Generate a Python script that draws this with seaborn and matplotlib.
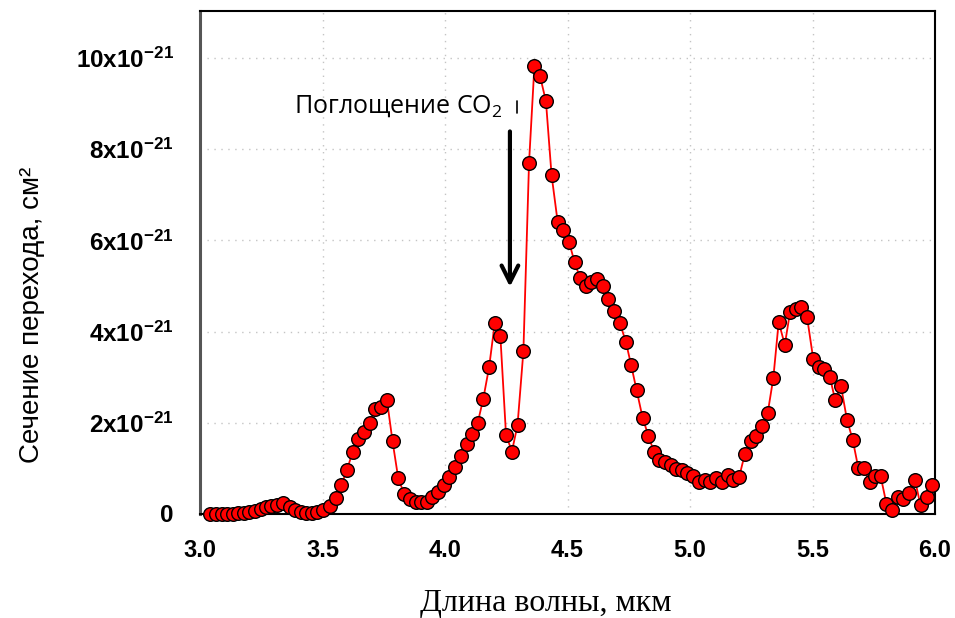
import matplotlib
matplotlib.use("Agg")
import matplotlib.pyplot as plt
import numpy as np
import pandas as pd
import seaborn as sns

# wavelength (um) and transition cross-section (x1e-21 cm^2)
wavelength = [
    3.041, 3.064, 3.088, 3.111, 3.135, 3.156, 3.178, 3.201, 3.224, 3.248,
    3.269, 3.291, 3.314, 3.340, 3.367, 3.388, 3.411, 3.434, 3.456, 3.479,
    3.503, 3.531, 3.554, 3.577, 3.600, 3.623, 3.646, 3.669, 3.693, 3.716,
    3.739, 3.763, 3.786, 3.809, 3.833, 3.857, 3.880, 3.903, 3.925, 3.948,
    3.973, 3.996, 4.018, 4.041, 4.064, 4.088, 4.110, 4.133, 4.156, 4.180,
    4.203, 4.226, 4.249, 4.273, 4.296, 4.320, 4.343, 4.365, 4.388, 4.412,
    4.435, 4.460, 4.482, 4.506, 4.529, 4.551, 4.574, 4.596, 4.619, 4.644,
    4.667, 4.690, 4.714, 4.738, 4.760, 4.782, 4.807, 4.830, 4.853, 4.875,
    4.898, 4.921, 4.943, 4.966, 4.989, 5.014, 5.037, 5.060, 5.083, 5.107,
    5.129, 5.154, 5.177, 5.201, 5.224, 5.248, 5.269, 5.294, 5.317, 5.340,
    5.362, 5.387, 5.408, 5.431, 5.454, 5.478, 5.503, 5.525, 5.548, 5.571,
    5.593, 5.616, 5.641, 5.664, 5.687, 5.710, 5.733, 5.755, 5.778, 5.802,
    5.824, 5.848, 5.871, 5.895, 5.918, 5.941, 5.966, 5.989,
]
cross_section = [
    0.00, 0.00, 0.00, 0.00, 0.01, 0.02, 0.03, 0.04, 0.07, 0.12,
    0.16, 0.18, 0.20, 0.25, 0.16, 0.09, 0.04, 0.02, 0.03, 0.04,
    0.08, 0.18, 0.34, 0.63, 0.97, 1.36, 1.64, 1.79, 1.99, 2.30,
    2.35, 2.50, 1.59, 0.79, 0.44, 0.33, 0.27, 0.26, 0.27, 0.38,
    0.49, 0.64, 0.82, 1.04, 1.28, 1.54, 1.75, 1.99, 2.52, 3.22,
    4.18, 3.90, 1.74, 1.37, 1.95, 3.57, 7.70, 9.83, 9.60, 9.05,
    7.43, 6.40, 6.23, 5.97, 5.52, 5.18, 5.00, 5.09, 5.15, 4.99,
    4.71, 4.46, 4.18, 3.78, 3.26, 2.72, 2.10, 1.72, 1.36, 1.19,
    1.14, 1.07, 0.99, 0.97, 0.90, 0.84, 0.70, 0.75, 0.70, 0.79,
    0.70, 0.86, 0.74, 0.82, 1.32, 1.61, 1.72, 1.93, 2.21, 2.98,
    4.21, 3.71, 4.42, 4.50, 4.53, 4.31, 3.40, 3.23, 3.17, 3.00,
    2.49, 2.81, 2.06, 1.63, 1.01, 1.01, 0.70, 0.83, 0.83, 0.22,
    0.09, 0.37, 0.33, 0.46, 0.75, 0.19, 0.37, 0.63,
]

x_ticks = [3.0, 3.5, 4.0, 4.5, 5.0, 5.5, 6.0]
y_ticks = [0, 2, 4, 6, 8, 10]
y_ticklabels = [r"$\mathbf{0}$"] + [r"$\mathbf{%dx10^{-21}}$" % v for v in y_ticks[1:]]

sns.set_style("white")
plt.rcParams["mathtext.fontset"] = "custom"
plt.rcParams["mathtext.rm"] = "Open Sans"
plt.rcParams["mathtext.bf"] = "Liberation Sans:bold"
plt.rcParams["font.family"] = ["Liberation Sans", "DejaVu Sans"]
plt.rcParams["text.color"] = "black"
plt.rcParams["xtick.color"] = "black"
plt.rcParams["ytick.color"] = "black"

df = pd.DataFrame({"wl": wavelength, "sigma": cross_section})

fig = plt.figure(figsize=(9.55, 6.18), dpi=100)
ax = fig.add_axes([200 / 955, 104 / 618, 735 / 955, 503 / 618])

sns.lineplot(data=df, x="wl", y="sigma", sort=False, ax=ax, color="red",
             linewidth=1.3, marker="o", markersize=9.8,
             markerfacecolor="red", markeredgecolor="black",
             markeredgewidth=1.0, clip_on=False, zorder=3)

ax.set_xlim(3.0, 6.0)
ax.set_ylim(0, 11.03)
ax.set_xticks(x_ticks)
ax.set_xticklabels([f"{v:.1f}" for v in x_ticks], fontsize=17, fontweight="bold")
ax.set_yticks(y_ticks)
ax.set_yticklabels(y_ticklabels, fontsize=17.5)

ax.grid(True, linestyle=(0, (1, 4)), color="#c4c4c4", linewidth=1.0)
ax.tick_params(axis="both", direction="out", length=7, width=1.2,
               color="black", labelcolor="black")
ax.tick_params(axis="x", pad=11)
ax.tick_params(axis="y", pad=12)

for side in ["top", "right", "bottom"]:
    ax.spines[side].set_color("black")
    ax.spines[side].set_linewidth(1.5)
ax.spines["left"].set_color("#555555")
ax.spines["left"].set_linewidth(2.2)

ax.set_xlabel("")
ax.set_ylabel("")
fig.text(546 / 955, 1 - 603 / 618, "Длина волны, мкм", fontsize=23,
         family="Liberation Serif", ha="center", va="center", color="black")
fig.text(32 / 955, 1 - 315 / 618, "Сечение перехода, см²", fontsize=20,
         rotation=90, ha="center", va="center", color="black")

# CO2 absorption annotation
ax.annotate("", xy=(4.265, 4.92), xytext=(4.265, 8.45),
            arrowprops=dict(arrowstyle="->", color="black", lw=3,
                            mutation_scale=30))
ax.text(4.233, 8.95, r"Поглощение CO$_\mathrm{2}$", fontsize=18,
        family="Open Sans", ha="right", va="center", color="black")
ax.plot([4.294, 4.294], [8.8, 9.05], color="black", lw=1.2)

fig.savefig("out.png", dpi=100)
plt.close(fig)
